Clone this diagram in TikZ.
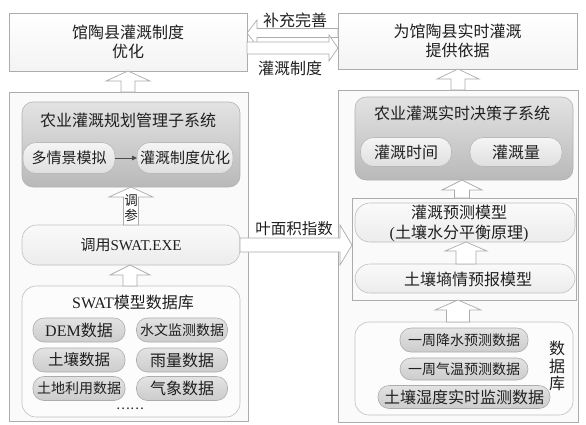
\documentclass[tikz,border=0pt]{standalone}
\usepackage{fontspec}
\setmainfont{Noto Sans CJK SC}
\newfontfamily\lat{Liberation Serif}
\usetikzlibrary{calc,arrows.meta}
\newcommand{\fz}[1]{\fontsize{#1}{#1}\selectfont}
% up-pointing block arrow: #1 x, #2 tip anchor, #3 tail anchor, #4 head half width, #5 head length, #6 shaft half width
\newcommand{\blkup}[6]{%
  \draw[barrow] let \p1=(#2), \p2=(#3) in
   (#1pt,\y1) -- ({#1pt+#4pt},{\y1-#5pt}) -- ({#1pt+#6pt},{\y1-#5pt})
   -- ({#1pt+#6pt},\y2) -- ({#1pt-#6pt},\y2) -- ({#1pt-#6pt},{\y1-#5pt})
   -- ({#1pt-#4pt},{\y1-#5pt}) -- cycle;}
% horizontal block arrow: #1 y (down), #2 tail, #3 tip, #4 head half, #5 head length, #6 shaft half, #7 direction
\newcommand{\blkh}[7]{%
  \draw[barrow] let \p1=(#2), \p2=(#3) in
   (\x2,-#1pt) -- ({\x2-(#7)*#5pt},{-#1pt+#4pt}) -- ({\x2-(#7)*#5pt},{-#1pt+#6pt})
   -- (\x1,{-#1pt+#6pt}) -- (\x1,{-#1pt-#6pt}) -- ({\x2-(#7)*#5pt},{-#1pt-#6pt})
   -- ({\x2-(#7)*#5pt},{-#1pt-#4pt}) -- cycle;}
\begin{document}
\begin{tikzpicture}[x=1pt,y=-1pt,
  every node/.style={inner sep=0pt,outer sep=0pt,text=black!88},
  topbox/.style={draw=gray!65,line width=0.7pt,top color=white,bottom color=gray!9,anchor=north west,align=center,font=\fontsize{16}{19}\selectfont},
  cont/.style={draw=gray!65,line width=0.7pt,fill=gray!4,anchor=north west},
  graybox/.style={draw=gray!60,line width=0.6pt,top color=gray!22,bottom color=gray!55,rounded corners=11pt,anchor=north west},
  subpill/.style={draw=gray!55,line width=0.6pt,top color=gray!8,bottom color=gray!25,rounded corners=13pt},
  midpill/.style={draw=gray!50,line width=0.6pt,top color=gray!4,bottom color=gray!15,rounded corners=15pt,anchor=north west},
  dbbox/.style={draw=gray!50,line width=0.6pt,fill=gray!2,rounded corners=14pt,anchor=north west},
  datapill/.style={draw=gray!65,line width=0.6pt,top color=gray!22,bottom color=gray!40,rounded corners=11pt},
  barrow/.style={draw=gray!65,fill=white,line width=0.7pt,line join=miter},
  lbl/.style={font=\fz{16}}
]
\useasboundingbox (0,0) rectangle (586,424);

% top boxes
\node[topbox,minimum width=238pt,minimum height=58pt] (topL) at (9,13) {馆陶县灌溉制度\\优化};
\node[topbox,minimum width=239pt,minimum height=56pt] (topR) at (338,13) {为馆陶县实时灌溉\\提供依据};

% containers
\node[cont,minimum width=239pt,minimum height=329pt] (leftC) at (9,92) {};
\node[cont,minimum width=240pt,minimum height=332pt] (rightC) at (338,90) {};

% ---------- left column ----------
\node[graybox,minimum width=218pt,minimum height=85pt] (grayL) at (22,102) {};
\node[lbl] (grayLt) at (128,120) {农业灌溉规划管理子系统};
\node[subpill,minimum width=92pt,minimum height=31pt,font=\fz{15}] (ms) at (69,158) {多情景模拟};
\node[subpill,minimum width=96pt,minimum height=31pt,font=\fz{15}] (zo) at (185,158) {灌溉制度优化};
\draw[-{Triangle[length=5pt,width=4.5pt]},line width=0.8pt,black!70] (ms.east) -- (zo.west);

\node[midpill,minimum width=218pt,minimum height=40pt,font=\fz{15}] (exe) at (22,225) {调用{\lat SWAT.EXE}};

\node[dbbox,minimum width=218pt,minimum height=131pt] (sdb) at (22,286) {};
\node[lbl] (sdbt) at (133,302) {{\lat SWAT}模型数据库};
\node[datapill,minimum width=92pt,minimum height=24pt,font=\fz{16}] (d1) at (79,330) {{\lat DEM}数据};
\node[datapill,minimum width=91pt,minimum height=24pt,font=\fz{14}] (d2) at (182,330) {水文监测数据};
\node[datapill,minimum width=92pt,minimum height=24pt,font=\fz{15.5}] (d3) at (79,360) {土壤数据};
\node[datapill,minimum width=91pt,minimum height=24pt,font=\fz{16}] (d4) at (182,360) {雨量数据};
\node[datapill,minimum width=92pt,minimum height=24pt,font=\fz{14}] (d5) at (79,388.5) {土地利用数据};
\node[datapill,minimum width=91pt,minimum height=24pt,font=\fz{16}] (d6) at (182,388.5) {气象数据};
\node[font=\fz{13}] (dots) at (130,409) {……};

% ---------- right column ----------
\node[graybox,minimum width=218pt,minimum height=83pt] (grayR) at (355,97) {};
\node[lbl] (grayRt) at (462,113) {农业灌溉实时决策子系统};
\node[subpill,minimum width=91pt,minimum height=29pt,font=\fz{16}] (tm) at (406,152) {灌溉时间};
\node[subpill,minimum width=92pt,minimum height=29pt,font=\fz{16}] (ql) at (516,152) {灌溉量};

\node[draw=gray!65,line width=0.7pt,fill=gray!4,anchor=north west,minimum width=224pt,minimum height=102pt] (inner) at (352,198) {};
\node[midpill,minimum width=220pt,minimum height=39pt] (pred) at (355,203) {};
\node[align=center,font=\fontsize{16}{20}\selectfont] (predt) at (459,223) {灌溉预测模型\\{\lat(}土壤水分平衡原理{\lat)}};
\node[midpill,minimum width=220pt,minimum height=29pt] (soil) at (355,264) {};
\node[lbl] (soilt) at (468,279) {土壤墒情预报模型};

\node[dbbox,minimum width=218pt,minimum height=93pt] (rdb) at (355,322) {};
\node[datapill,minimum width=128pt,minimum height=24pt,font=\fz{14}] (r1) at (464,340) {一周降水预测数据};
\node[datapill,minimum width=128pt,minimum height=22pt,font=\fz{14}] (r2) at (464,369) {一周气温预测数据};
\node[datapill,minimum width=172pt,minimum height=23pt,font=\fz{16}] (r3) at (464,397) {土壤湿度实时监测数据};
\node[align=center,font=\fontsize{16}{17.5}\selectfont] (sjk) at (557,366) {数\\据\\库};

% ---------- block arrows ----------
\blkup{128}{topL.south}{leftC.north}{22}{10}{7}
\blkup{458}{topR.south}{rightC.north}{21}{10}{7}
\blkup{131}{grayL.south}{exe.north}{22}{10}{7.5}
\blkup{130}{exe.south}{sdb.north}{20}{10}{7}
\blkup{462}{grayR.south}{inner.north}{20}{10}{7.5}
\blkup{466}{pred.south}{soil.north}{21}{9}{10}
\blkup{458}{inner.south}{rdb.north}{23}{10}{11.5}

\blkh{33}{topR.west}{topL.east}{13}{10}{4.5}{-1}
\blkh{48}{topL.east}{topR.west}{13}{9}{6}{1}
\blkh{245}{exe.east}{$(pred.west)+(-3,0)$}{20}{12}{7}{1}

% labels
\node[lbl] (l1) at (295,20) {补充完善};
\node[lbl] (l2) at (290,68.5) {灌溉制度};
\node[font=\fz{15.5}] (l3) at (294,229) {叶面积指数};
\node[font=\fz{13.5}] (tc1) at (131,201) {调};
\node[font=\fz{13.5}] (tc2) at (131,215) {参};
\end{tikzpicture}
\end{document}
